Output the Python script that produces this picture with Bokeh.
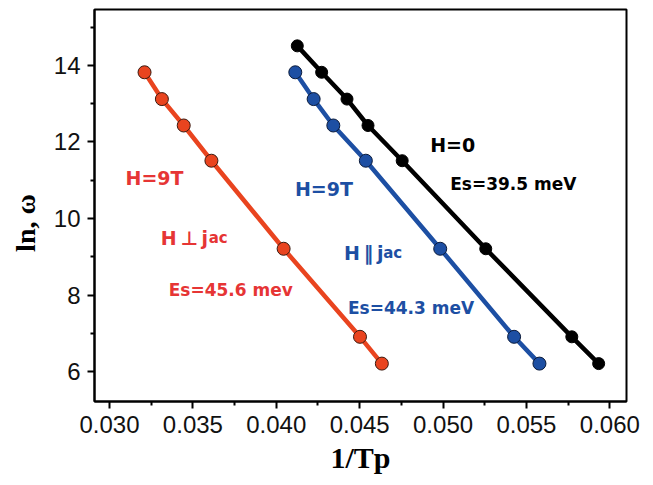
from bokeh.plotting import figure
from bokeh.models import FixedTicker, Range1d
from bokeh.core.properties import value
from bokeh.embed import file_html
from bokeh.resources import INLINE

# ln(omega) levels shared by the three series
ln_omega = [14.51, 13.82, 13.12, 12.43, 11.51, 9.21, 6.91, 6.21]

# 1/Tp for H = 9T, H perpendicular to j_ac
inv_tp_perp = [0.0321, 0.03314, 0.03445, 0.03611, 0.04044, 0.04502, 0.04633]
ln_perp = ln_omega[1:]

# 1/Tp for H = 9T, H parallel to j_ac
inv_tp_par = [0.04114, 0.04224, 0.04342, 0.04537, 0.04983, 0.05426, 0.05578]
ln_par = ln_omega[1:]

# 1/Tp for H = 0
inv_tp_zero = [0.04126, 0.04272, 0.04424, 0.0455, 0.04755, 0.05256, 0.05772, 0.05933]
ln_zero = ln_omega

x_ticks = [0.030, 0.035, 0.040, 0.045, 0.050, 0.055, 0.060]
y_ticks = [6, 8, 10, 12, 14]

RED_LINE = "#e9441f"
RED_TEXT = "#e63535"
BLUE = "#1d4fa3"
BLACK = "#000000"

p = figure(width=653, height=485, output_backend="svg", toolbar_location=None,
           x_range=Range1d(0.0291, 0.0610), y_range=Range1d(5.22, 15.46),
           min_border_left=94, min_border_right=27, min_border_top=9,
           min_border_bottom=84)

p.grid.visible = False
p.outline_line_color = "black"
p.outline_line_width = 2
p.background_fill_color = "white"
p.border_fill_color = "white"

p.xaxis.ticker = FixedTicker(ticks=x_ticks,
                             minor_ticks=[0.0325, 0.0375, 0.0425, 0.0475, 0.0525, 0.0575])
p.yaxis.ticker = FixedTicker(ticks=y_ticks, minor_ticks=[7, 9, 11, 13, 15])
p.xaxis.major_label_overrides = {t: f"{t:.3f}" for t in x_ticks}

for ax in (p.xaxis, p.yaxis):
    ax.axis_line_width = 2
    ax.axis_line_color = "black"
    ax.major_tick_line_width = 2
    ax.minor_tick_line_width = 2
    ax.major_tick_out = 7
    ax.major_tick_in = 0
    ax.minor_tick_out = 4
    ax.minor_tick_in = 0
    ax.major_label_text_font = "Liberation Sans"
    ax.major_label_text_font_size = "24px"
    ax.major_label_text_color = "#111111"
    ax.axis_label_text_font = "Liberation Serif"
    ax.axis_label_text_font_style = "bold"
    ax.axis_label_text_color = "black"

p.xaxis.major_label_standoff = 7
p.yaxis.major_label_standoff = 7
p.xaxis.axis_label = "1/Tp"
p.xaxis.axis_label_text_font_size = "30px"
p.xaxis.axis_label_standoff = 5
p.yaxis.axis_label = "ln, \u03c9\u00a0\u00a0\u00a0\u00a0\u00a0"
p.yaxis.axis_label_text_font_size = "28px"
p.yaxis.axis_label_standoff = 10

# fitted lines and data points
p.line(inv_tp_perp, ln_perp, line_color=RED_LINE, line_width=4.5)
p.scatter(inv_tp_perp, ln_perp, size=13, fill_color=RED_LINE, line_color="#3a1a10", line_width=1)

p.line(inv_tp_par, ln_par, line_color=BLUE, line_width=4.5)
p.scatter(inv_tp_par, ln_par, size=13, fill_color=BLUE, line_color="#0a1a3a", line_width=1)

p.line(inv_tp_zero, ln_zero, line_color=BLACK, line_width=4.5)
p.scatter(inv_tp_zero, ln_zero, size=12, fill_color=BLACK, line_color=BLACK, line_width=1)

FONT = value("DejaVu Sans")


def note(x, y, text, color, size, baseline="middle"):
    p.text(x=[x], y=[y], text=[text], text_color=color, text_font=FONT,
           text_font_style="bold", text_font_size=size,
           text_align="left", text_baseline=baseline)


# H perpendicular to j_ac
note(0.03096, 11.07, "H=9T", RED_TEXT, "19px")
note(0.03307, 9.50, "H\u2009\u22a5\u2009j", RED_TEXT, "19px", "alphabetic")
note(0.03595, 9.50, "ac", RED_TEXT, "15px", "alphabetic")
note(0.03355, 8.12, "Es=45.6 mev", RED_TEXT, "17px")

# H parallel to j_ac
note(0.04112, 10.78, "H=9T", BLUE, "19px")
note(0.04406, 9.11, "H\u2009\u2016\u2009j", BLUE, "19px", "alphabetic")
note(0.04641, 9.11, "ac", BLUE, "15px", "alphabetic")
note(0.0443, 7.65, "Es=44.3 meV", BLUE, "17px")

# zero field
note(0.04923, 11.93, "H=0", BLACK, "19px")
note(0.05043, 10.89, "Es=39.5 meV", BLACK, "17px")

open("out.html", "w").write(file_html(p, INLINE))
